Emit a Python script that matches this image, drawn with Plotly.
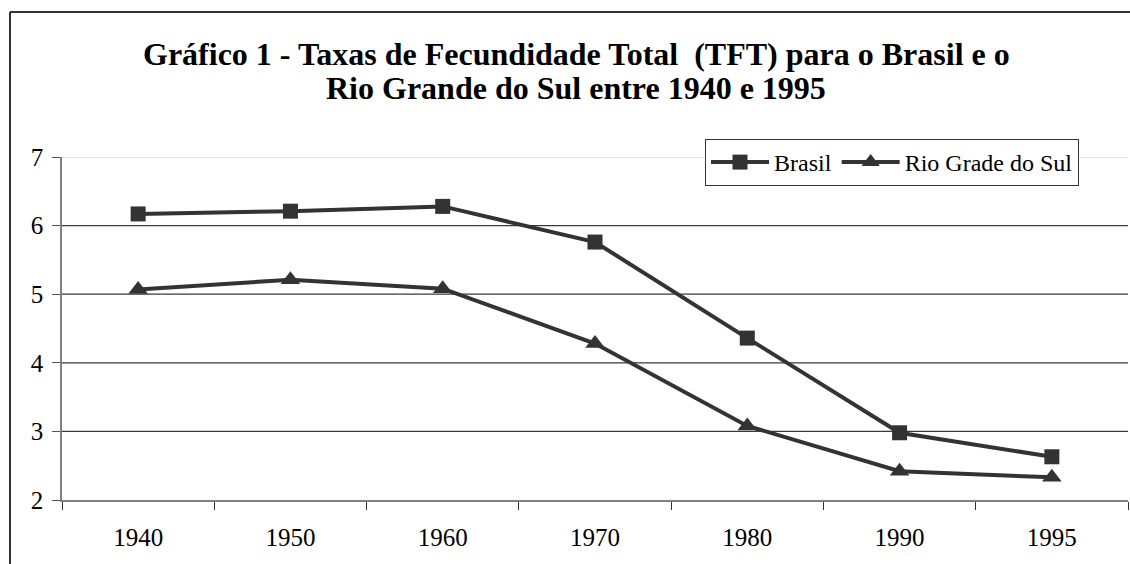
import plotly.graph_objects as go

years = ["1940", "1950", "1960", "1970", "1980", "1990", "1995"]
brasil = [6.17, 6.21, 6.28, 5.76, 4.36, 2.98, 2.63]
rio_grande = [5.07, 5.21, 5.08, 4.28, 3.08, 2.42, 2.33]
y_ticks = [2, 3, 4, 5, 6, 7]
title_line1 = "Gráfico 1 - Taxas de Fecundidade Total \u00a0(TFT) para o Brasil e o"
title_line2 = "Rio Grande do Sul entre 1940 e 1995"

W, H = 1130, 564
L, R, T, B = 62, 2, 157, 64
PW, PH = W - L - R, H - T - B


def px_x(x):
    return (x - L) / PW


def px_y(y):
    return (H - B - y) / PH


FONT = "Liberation Serif, Times New Roman, serif"
LINE_COLOR = "#333333"

fig = go.Figure()
fig.add_trace(go.Scatter(
    x=years, y=brasil, name="Brasil", mode="lines+markers",
    line=dict(color=LINE_COLOR, width=4),
    marker=dict(symbol="square", size=15, color=LINE_COLOR),
))
fig.add_trace(go.Scatter(
    x=years, y=rio_grande, name="Rio Grade do Sul", mode="lines+markers",
    line=dict(color=LINE_COLOR, width=4),
    marker=dict(symbol="triangle-up", size=17, color=LINE_COLOR),
))

shapes = []
# gridlines
for v in y_ticks[1:]:
    shapes.append(dict(
        type="line", xref="paper", yref="y", x0=0, x1=1, y0=v, y1=v,
        line=dict(color="#d9d9d9" if v == y_ticks[-1] else "#3a3a3a", width=1.3),
        layer="below",
    ))
# outer chart frame (cropped)
shapes.append(dict(type="line", xref="paper", yref="paper",
                   x0=px_x(10), x1=px_x(10), y0=px_y(12), y1=px_y(H + 5),
                   line=dict(color="#333333", width=2)))
shapes.append(dict(type="line", xref="paper", yref="paper",
                   x0=px_x(10), x1=px_x(W + 5), y0=px_y(12), y1=px_y(12),
                   line=dict(color="#333333", width=2)))

annotations = [
    dict(text="<b>" + title_line1 + "</b>", xref="paper", yref="paper",
         x=px_x(576), y=px_y(54), xanchor="center", yanchor="middle",
         showarrow=False, font=dict(family=FONT, size=32, color="black")),
    dict(text="<b>" + title_line2 + "</b>", xref="paper", yref="paper",
         x=px_x(576), y=px_y(88), xanchor="center", yanchor="middle",
         showarrow=False, font=dict(family=FONT, size=32, color="black")),
]

fig.update_layout(
    width=W, height=H,
    margin=dict(l=L, r=R, t=T, b=B, pad=0),
    paper_bgcolor="white", plot_bgcolor="white",
    font=dict(family=FONT, size=25, color="black"),
    showlegend=True,
    legend=dict(
        orientation="h", x=px_x(1079), y=px_y(139), xanchor="right", yanchor="top",
        bgcolor="white", bordercolor="#333333", borderwidth=1,
        font=dict(family=FONT, size=24, color="black"),
        itemwidth=58, tracegroupgap=0,
    ),
    shapes=shapes,
    annotations=annotations,
    xaxis=dict(
        type="category", range=[-0.5, len(years) - 0.5],
        showgrid=False, zeroline=False,
        showline=True, linecolor="#808080", linewidth=1.5,
        ticks="outside", tickson="boundaries", ticklen=8, tickcolor="#333333", tickwidth=1.2,
        tickfont=dict(family=FONT, size=25, color="black"),
        ticklabelstandoff=14,
    ),
    yaxis=dict(
        range=[y_ticks[0], y_ticks[-1]], tickvals=y_ticks,
        showgrid=False, zeroline=False,
        showline=True, linecolor="#808080", linewidth=1.5,
        ticks="outside", ticklen=8, tickcolor="#555555", tickwidth=1.2,
        tickfont=dict(family=FONT, size=25, color="black"),
        ticklabelstandoff=4,
    ),
)

fig.write_html("out.html", config={"displayModeBar": False},
               post_script="document.body.style.margin='0';")
